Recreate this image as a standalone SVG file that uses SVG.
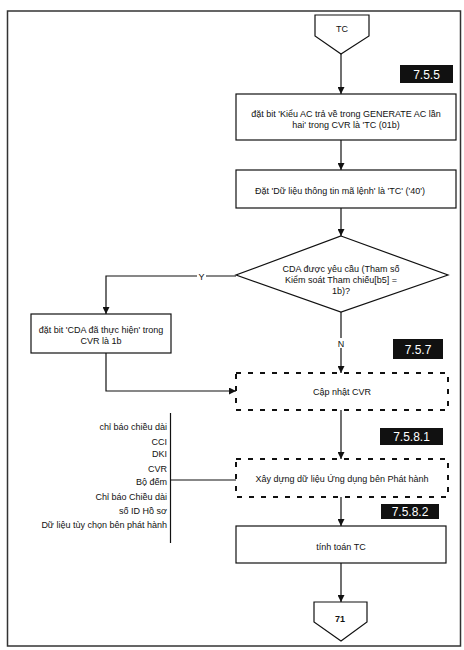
<svg xmlns="http://www.w3.org/2000/svg" width="464" height="650" viewBox="0 0 464 650">
<defs>
<marker id="ah" viewBox="0 0 10 10" refX="10" refY="5" markerWidth="7" markerHeight="7" markerUnits="userSpaceOnUse" orient="auto">
<path d="M0,0 L10,5 L0,10 z" fill="#111"/>
</marker>
<style>
text{font-family:"Liberation Sans",Arial,sans-serif;font-size:9px;fill:#111}
.c{text-anchor:middle}
.r{text-anchor:end}
.box{fill:#fff;stroke:#111;stroke-width:1.2}
.dash{fill:#fff;stroke:#111;stroke-width:2;stroke-dasharray:5 7}
.ln{fill:none;stroke:#111;stroke-width:1.2}
.lbl{fill:#111}
.lt{fill:#fff;font-size:12px;text-anchor:middle}
</style>
</defs>
<rect width="464" height="650" fill="#fff"/>
<rect x="7.5" y="11" width="453" height="635" fill="none" stroke="#333" stroke-width="1.5"/>

<g id="connectors">
<line class="ln" x1="341" y1="54" x2="341" y2="94" marker-end="url(#ah)"/>
<line class="ln" x1="341" y1="140" x2="341" y2="170" marker-end="url(#ah)"/>
<line class="ln" x1="341" y1="208" x2="341" y2="236" marker-end="url(#ah)"/>
<polyline class="ln" points="236,276 106,276 106,314" marker-end="url(#ah)"/>
<rect x="197" y="271" width="9" height="10" fill="#fff"/>
<text class="c" x="201.5" y="280">Y</text>
<line class="ln" x1="341" y1="312" x2="341" y2="373" marker-end="url(#ah)"/>
<rect x="336" y="338" width="10" height="10" fill="#fff"/>
<text class="c" x="341" y="347">N</text>
<polyline class="ln" points="106,353 106,391 236,391" marker-end="url(#ah)"/>
<line class="ln" x1="341" y1="410" x2="341" y2="459" marker-end="url(#ah)"/>
<line class="ln" x1="341" y1="497" x2="341" y2="526" marker-end="url(#ah)"/>
<line class="ln" x1="341" y1="563" x2="341" y2="602" marker-end="url(#ah)"/>
<line class="ln" x1="170.5" y1="413" x2="170.5" y2="543"/>
<line class="ln" x1="170.5" y1="480" x2="236" y2="480"/>
</g>

<g id="start">
<polygon class="box" points="315,15 369,15 369,36 341,54 315,36"/>
<text class="c" x="342" y="32">TC</text>
</g>

<g id="lbl755">
<rect class="lbl" x="400" y="65" width="53" height="18"/>
<text class="lt" x="426.5" y="78.5">7.5.5</text>
</g>

<g id="box1">
<rect class="box" x="236" y="94" width="220" height="46"/>
<text class="c" x="346" y="117">đặt bit 'Kiểu AC trả về trong GENERATE AC lần</text>
<text class="c" x="346" y="128">hai' trong CVR là 'TC (01b)</text>
</g>

<g id="box2">
<rect class="box" x="236" y="170" width="220" height="38"/>
<text class="c" x="340" y="194">Đặt 'Dữ liệu thông tin mã lệnh' là 'TC' ('40')</text>
</g>

<g id="decision">
<polygon class="box" points="341,236 448,275 341,312 236,275"/>
<text class="c" x="341" y="272">CDA được yêu cầu (Tham số</text>
<text class="c" x="341" y="283">Kiểm soát Tham chiếu[b5] =</text>
<text class="c" x="341" y="294">1b)?</text>
</g>

<g id="box3">
<rect class="box" x="31" y="314" width="140" height="39"/>
<text class="c" x="101" y="333">đặt bit 'CDA đã thực hiện' trong</text>
<text class="c" x="101" y="344">CVR là 1b</text>
</g>

<g id="lbl757">
<rect class="lbl" x="393" y="339" width="50" height="20"/>
<text class="lt" x="418" y="353.5">7.5.7</text>
</g>

<g id="box4">
<rect class="dash" x="236" y="373" width="212" height="37"/>
<text class="c" x="342" y="395">Cập nhật CVR</text>
</g>

<g id="lbl7581">
<rect class="lbl" x="380" y="428" width="63" height="17"/>
<text class="lt" x="411.5" y="441">7.5.8.1</text>
</g>

<g id="box5">
<rect class="dash" x="236" y="459" width="212" height="38"/>
<text class="c" x="342" y="482">Xây dựng dữ liệu Ứng dụng bên Phát hành</text>
</g>

<g id="inputs">
<text class="r" x="167" y="430">chỉ báo chiều dài</text>
<text class="r" x="167" y="445">CCI</text>
<text class="r" x="167" y="457">DKI</text>
<text class="r" x="167" y="472">CVR</text>
<text class="r" x="167" y="485">Bộ đếm</text>
<text class="r" x="167" y="500">Chỉ báo Chiều dài</text>
<text class="r" x="167" y="514">số ID Hồ sơ</text>
<text class="r" x="167" y="528">Dữ liệu tùy chọn bên phát hành</text>
</g>

<g id="lbl7582">
<rect class="lbl" x="381" y="504" width="58" height="15"/>
<text class="lt" x="410" y="516">7.5.8.2</text>
</g>

<g id="box6">
<rect class="box" x="236" y="526" width="210" height="37"/>
<text class="c" x="341" y="550">tính toán TC</text>
</g>

<g id="end">
<polygon class="box" points="314,602 367,602 367,622 341,641 314,622"/>
<text class="c" x="340" y="622" font-weight="bold">71</text>
</g>
</svg>
